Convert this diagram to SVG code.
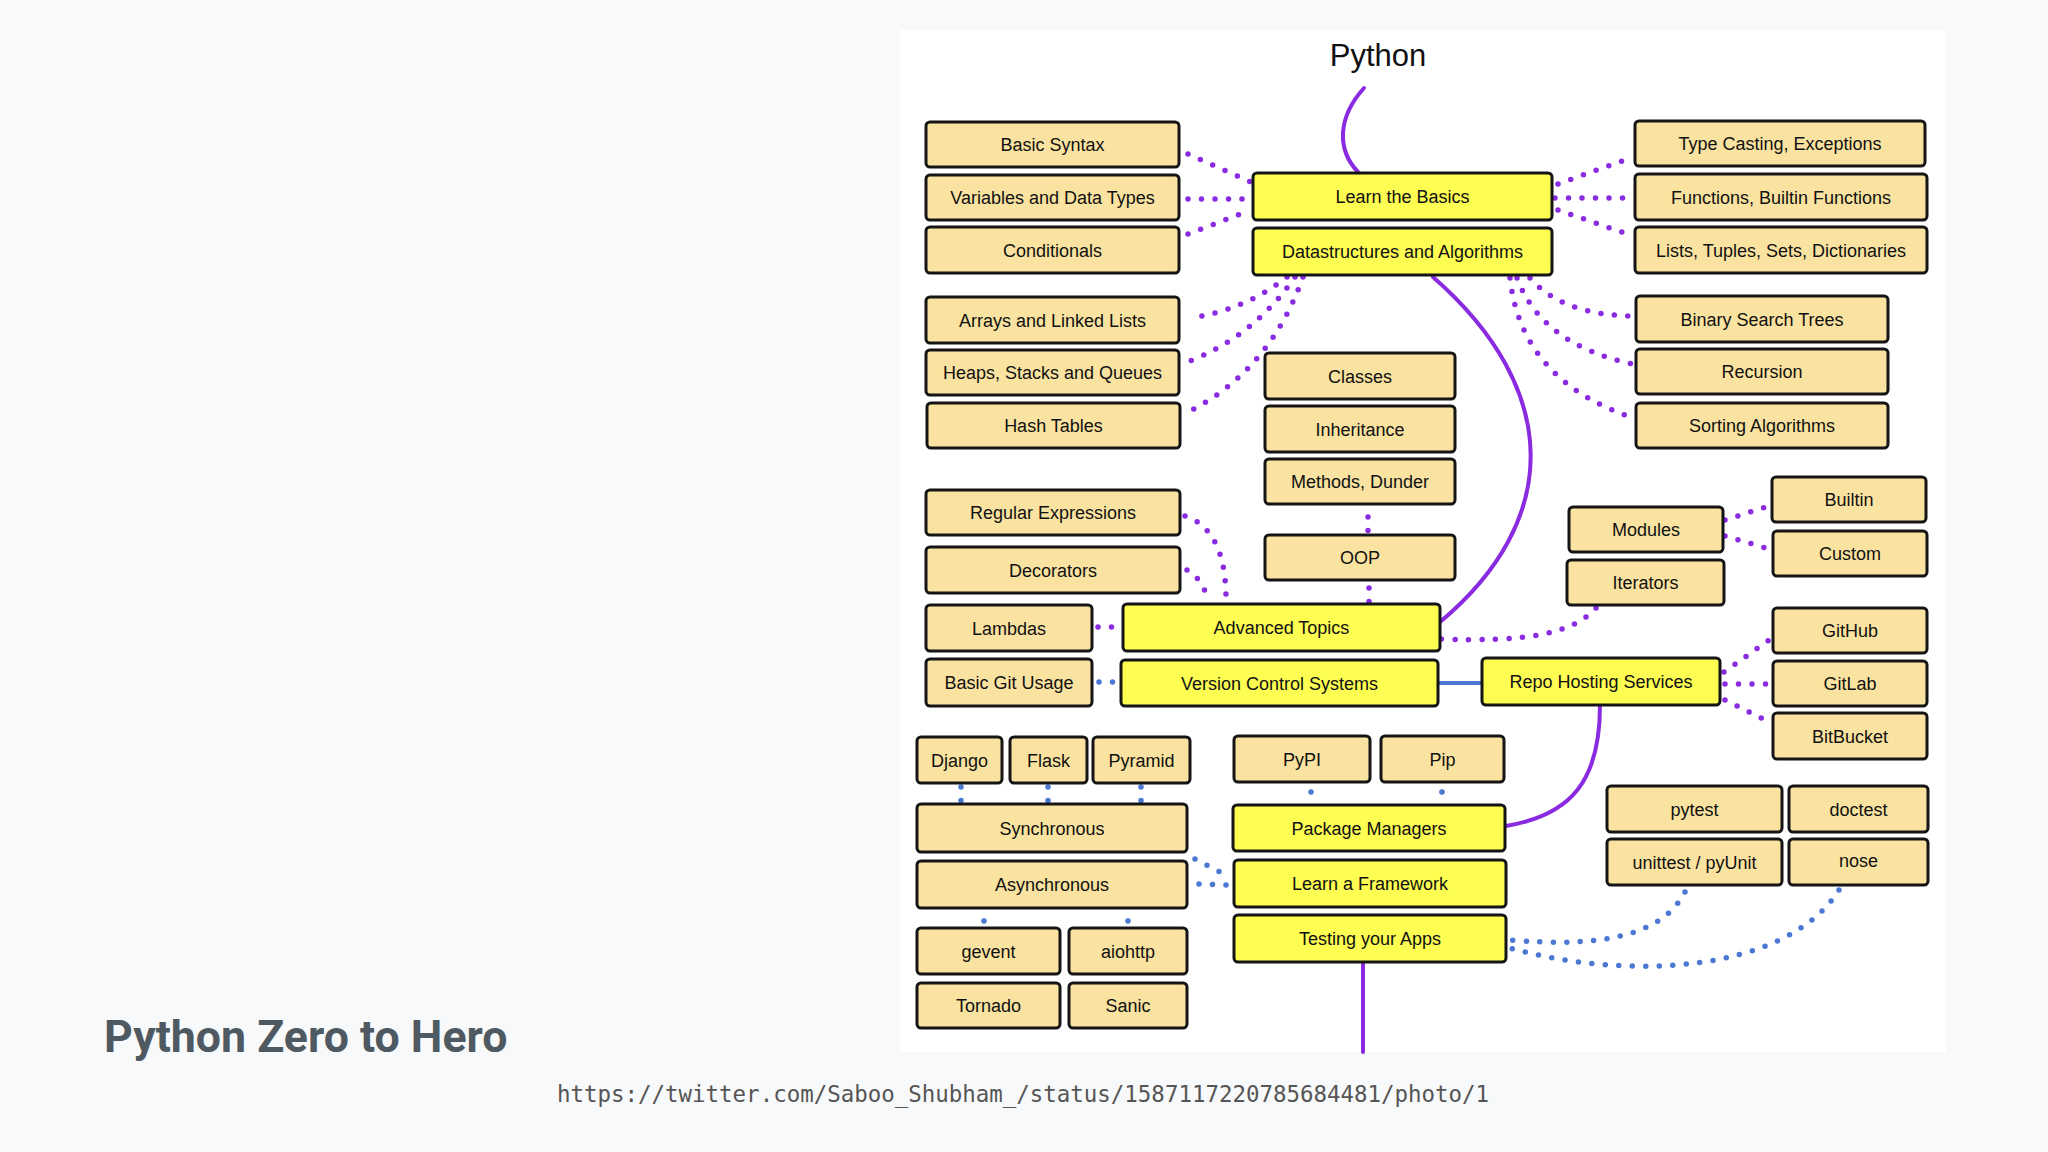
<svg xmlns="http://www.w3.org/2000/svg" width="2048" height="1152" viewBox="0 0 2048 1152">
<style>
.n rect{fill:#fae3a0;stroke:#151515;stroke-width:3}
.h rect{fill:#fdfd52;stroke:#151515;stroke-width:3}
.n text,.h text{font-family:"Liberation Sans",Arial,sans-serif;font-size:18px;fill:#111;text-anchor:middle}
.pd{fill:none;stroke:#8a2be2;stroke-width:5.5;stroke-linecap:round;stroke-dasharray:0 13.5}
.bd{fill:none;stroke:#4a78d2;stroke-width:5.5;stroke-linecap:round;stroke-dasharray:0 13.5}
.ps{fill:none;stroke:#8a2be2;stroke-width:4;stroke-linecap:round}
.bs{fill:none;stroke:#4a78d2;stroke-width:4}
</style>
<rect x="0" y="0" width="2048" height="1152" fill="#f8f9fa"/>
<rect x="900" y="30" width="1046" height="1022" fill="#ffffff"/>
<text x="1378" y="66" font-family="Liberation Sans,Arial,sans-serif" font-size="31" fill="#111" text-anchor="middle">Python</text>

<g id="connectors">
<path class="ps" d="M1364,88 C1337,118 1337,150 1358,172"/>
<path class="ps" d="M1433,277 C1562,390 1562,520 1440,622"/>
<path class="ps" d="M1600,705 C1600,780 1572,815 1506,826"/>
<path class="ps" d="M1363,962 L1363,1052"/>
<path class="bs" d="M1438,683 L1482,683"/>
<path class="pd" d="M1188,154 L1251,182"/>
<path class="pd" d="M1188,199 L1251,199"/>
<path class="pd" d="M1188,234 L1251,210"/>
<path class="pd" d="M1558,184 L1633,157"/>
<path class="pd" d="M1555,198 L1633,198"/>
<path class="pd" d="M1558,210 L1633,236"/>
<path class="pd" d="M1287,277 Q1245,310 1190,318"/>
<path class="pd" d="M1295,277 Q1255,335 1190,361"/>
<path class="pd" d="M1303,277 Q1270,370 1190,411"/>
<path class="pd" d="M1530,278 Q1562,315 1633,316"/>
<path class="pd" d="M1517,278 Q1542,345 1633,364"/>
<path class="pd" d="M1510,278 Q1521,380 1633,418"/>
<path class="pd" d="M1368,517 L1368,531"/>
<path class="pd" d="M1369,588 L1369,602"/>
<path class="pd" d="M1185,516 Q1227,530 1226,603"/>
<path class="pd" d="M1187,570 Q1204,580 1208,602"/>
<path class="pd" d="M1098,627 L1112,627"/>
<path class="pd" d="M1596,608 C1572,635 1521,642 1441,639"/>
<path class="pd" d="M1725,520 L1766,507"/>
<path class="pd" d="M1725,536 L1766,548"/>
<path class="pd" d="M1724,672 L1772,638"/>
<path class="pd" d="M1725,684 L1772,684"/>
<path class="pd" d="M1725,700 L1767,721"/>
<path class="bd" d="M1099,682 L1113,682"/>
<path class="bd" d="M961,787 L961,802"/>
<path class="bd" d="M1048,787 L1048,802"/>
<path class="bd" d="M1141,787 L1141,802"/>
<circle cx="1311" cy="792" r="2.8" fill="#4a78d2"/>
<circle cx="1442" cy="792" r="2.8" fill="#4a78d2"/>
<path class="bd" d="M1195,859 L1222,873"/>
<path class="bd" d="M1199,884 L1228,885"/>
<circle cx="984" cy="921" r="2.8" fill="#4a78d2"/>
<circle cx="1128" cy="921" r="2.8" fill="#4a78d2"/>
<path class="bd" d="M1685,892 C1663,935 1602,948 1511,940"/>
<path class="bd" d="M1839,890 C1785,975 1623,980 1510,948"/>
</g>

<g id="basic-syntax" class="n"><rect x="926" y="122" width="253" height="45" rx="4"/><text x="1052.5" y="151">Basic Syntax</text></g>
<g id="variables" class="n"><rect x="926" y="175" width="253" height="45" rx="4"/><text x="1052.5" y="204">Variables and Data Types</text></g>
<g id="conditionals" class="n"><rect x="926" y="227" width="253" height="46" rx="4"/><text x="1052.5" y="256.5">Conditionals</text></g>
<g id="arrays" class="n"><rect x="926" y="297" width="253" height="46" rx="4"/><text x="1052.5" y="326.5">Arrays and Linked Lists</text></g>
<g id="heaps" class="n"><rect x="926" y="350" width="253" height="45" rx="4"/><text x="1052.5" y="379">Heaps, Stacks and Queues</text></g>
<g id="hash-tables" class="n"><rect x="927" y="403" width="253" height="45" rx="4"/><text x="1053.5" y="432">Hash Tables</text></g>
<g id="regex" class="n"><rect x="926" y="490" width="254" height="45" rx="4"/><text x="1053" y="519">Regular Expressions</text></g>
<g id="decorators" class="n"><rect x="926" y="547" width="254" height="46" rx="4"/><text x="1053" y="576.5">Decorators</text></g>
<g id="lambdas" class="n"><rect x="926" y="605" width="166" height="46" rx="4"/><text x="1009" y="634.5">Lambdas</text></g>
<g id="basic-git" class="n"><rect x="926" y="659" width="166" height="47" rx="4"/><text x="1009" y="689">Basic Git Usage</text></g>

<g id="learn-basics" class="h"><rect x="1253" y="173" width="299" height="47" rx="4"/><text x="1402.5" y="203">Learn the Basics</text></g>
<g id="datastructures" class="h"><rect x="1253" y="228" width="299" height="47" rx="4"/><text x="1402.5" y="258">Datastructures and Algorithms</text></g>
<g id="classes" class="n"><rect x="1265" y="353" width="190" height="46" rx="4"/><text x="1360" y="382.5">Classes</text></g>
<g id="inheritance" class="n"><rect x="1265" y="406" width="190" height="46" rx="4"/><text x="1360" y="435.5">Inheritance</text></g>
<g id="methods" class="n"><rect x="1265" y="459" width="190" height="45" rx="4"/><text x="1360" y="488">Methods, Dunder</text></g>
<g id="oop" class="n"><rect x="1265" y="535" width="190" height="45" rx="4"/><text x="1360" y="564">OOP</text></g>
<g id="advanced" class="h"><rect x="1123" y="604" width="317" height="47" rx="4"/><text x="1281.5" y="634">Advanced Topics</text></g>
<g id="vcs" class="h"><rect x="1121" y="660" width="317" height="46" rx="4"/><text x="1279.5" y="689.5">Version Control Systems</text></g>
<g id="repo-hosting" class="h"><rect x="1482" y="658" width="238" height="47" rx="4"/><text x="1601" y="688">Repo Hosting Services</text></g>

<g id="type-casting" class="n"><rect x="1635" y="121" width="290" height="45" rx="4"/><text x="1780" y="150">Type Casting, Exceptions</text></g>
<g id="functions" class="n"><rect x="1635" y="174" width="292" height="46" rx="4"/><text x="1781" y="203.5">Functions, Builtin Functions</text></g>
<g id="lists" class="n"><rect x="1635" y="227" width="292" height="46" rx="4"/><text x="1781" y="256.5">Lists, Tuples, Sets, Dictionaries</text></g>
<g id="bst" class="n"><rect x="1636" y="296" width="252" height="46" rx="4"/><text x="1762" y="325.5">Binary Search Trees</text></g>
<g id="recursion" class="n"><rect x="1636" y="349" width="252" height="45" rx="4"/><text x="1762" y="378">Recursion</text></g>
<g id="sorting" class="n"><rect x="1636" y="403" width="252" height="45" rx="4"/><text x="1762" y="432">Sorting Algorithms</text></g>
<g id="builtin" class="n"><rect x="1772" y="477" width="154" height="45" rx="4"/><text x="1849" y="506">Builtin</text></g>
<g id="custom" class="n"><rect x="1773" y="531" width="154" height="45" rx="4"/><text x="1850" y="560">Custom</text></g>
<g id="modules" class="n"><rect x="1569" y="507" width="154" height="45" rx="4"/><text x="1646" y="536">Modules</text></g>
<g id="iterators" class="n"><rect x="1567" y="560" width="157" height="45" rx="4"/><text x="1645.5" y="589">Iterators</text></g>
<g id="github" class="n"><rect x="1773" y="608" width="154" height="45" rx="4"/><text x="1850" y="637">GitHub</text></g>
<g id="gitlab" class="n"><rect x="1773" y="661" width="154" height="45" rx="4"/><text x="1850" y="690">GitLab</text></g>
<g id="bitbucket" class="n"><rect x="1773" y="713" width="154" height="46" rx="4"/><text x="1850" y="742.5">BitBucket</text></g>

<g id="django" class="n"><rect x="917" y="737" width="85" height="46" rx="4"/><text x="959.5" y="766.5">Django</text></g>
<g id="flask" class="n"><rect x="1010" y="737" width="77" height="46" rx="4"/><text x="1048.5" y="766.5">Flask</text></g>
<g id="pyramid" class="n"><rect x="1093" y="737" width="97" height="46" rx="4"/><text x="1141.5" y="766.5">Pyramid</text></g>
<g id="pypi" class="n"><rect x="1234" y="736" width="136" height="46" rx="4"/><text x="1302" y="765.5">PyPI</text></g>
<g id="pip" class="n"><rect x="1381" y="736" width="123" height="46" rx="4"/><text x="1442.5" y="765.5">Pip</text></g>
<g id="synchronous" class="n"><rect x="917" y="804" width="270" height="48" rx="4"/><text x="1052" y="834.5">Synchronous</text></g>
<g id="asynchronous" class="n"><rect x="917" y="861" width="270" height="47" rx="4"/><text x="1052" y="891">Asynchronous</text></g>
<g id="gevent" class="n"><rect x="917" y="928" width="143" height="46" rx="4"/><text x="988.5" y="957.5">gevent</text></g>
<g id="aiohttp" class="n"><rect x="1069" y="928" width="118" height="46" rx="4"/><text x="1128" y="957.5">aiohttp</text></g>
<g id="tornado" class="n"><rect x="917" y="983" width="143" height="45" rx="4"/><text x="988.5" y="1012">Tornado</text></g>
<g id="sanic" class="n"><rect x="1069" y="983" width="118" height="45" rx="4"/><text x="1128" y="1012">Sanic</text></g>
<g id="package-managers" class="h"><rect x="1233" y="805" width="272" height="46" rx="4"/><text x="1369" y="834.5">Package Managers</text></g>
<g id="learn-framework" class="h"><rect x="1234" y="860" width="272" height="47" rx="4"/><text x="1370" y="890">Learn a Framework</text></g>
<g id="testing" class="h"><rect x="1234" y="915" width="272" height="47" rx="4"/><text x="1370" y="945">Testing your Apps</text></g>
<g id="pytest" class="n"><rect x="1607" y="786" width="175" height="46" rx="4"/><text x="1694.5" y="815.5">pytest</text></g>
<g id="doctest" class="n"><rect x="1789" y="786" width="139" height="46" rx="4"/><text x="1858.5" y="815.5">doctest</text></g>
<g id="unittest" class="n"><rect x="1607" y="839" width="175" height="46" rx="4"/><text x="1694.5" y="868.5">unittest / pyUnit</text></g>
<g id="nose" class="n"><rect x="1789" y="839" width="139" height="46" rx="4"/><text x="1858.5" y="866.5">nose</text></g>

<text x="104" y="1052" font-family="Roboto,'Liberation Sans',sans-serif" font-weight="700" font-size="44.7" fill="#4f5961">Python Zero to Hero</text>
<text x="557" y="1102" font-family="'DejaVu Sans Mono','Liberation Mono',monospace" font-size="22.45" fill="#555555">https://twitter.com/Saboo_Shubham_/status/1587117220785684481/photo/1</text>
</svg>
